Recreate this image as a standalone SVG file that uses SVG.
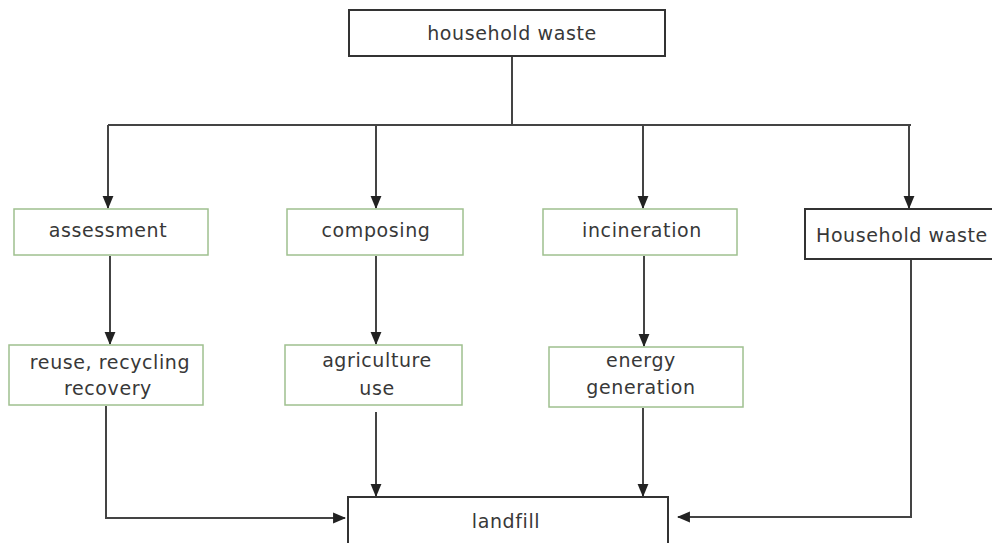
<svg xmlns="http://www.w3.org/2000/svg" width="992" height="543" viewBox="0 0 992 543">
<defs>
<style>
.t{font-family:"DejaVu Sans",Verdana,sans-serif;font-size:19px;letter-spacing:0.6px;fill:#383838;text-anchor:middle}
.g{fill:#fff;stroke:#9fc08f;stroke-width:1.5}
.b{fill:#fff;stroke:#333;stroke-width:2}
.c{fill:none;stroke:#444;stroke-width:2}
</style>
<marker id="ah" viewBox="0 0 12 12" refX="11" refY="6" markerWidth="13" markerHeight="13" markerUnits="userSpaceOnUse" orient="auto">
<path d="M0,1 L12,6 L0,11 Z" fill="#222"/>
</marker>
</defs>
<rect width="992" height="543" fill="#fff"/>
<g id="connectors">
<path class="c" d="M512,56 V125"/>
<path class="c" d="M108,125 H911"/>
<path class="c" d="M108,125 V208" marker-end="url(#ah)"/>
<path class="c" d="M376,125 V208" marker-end="url(#ah)"/>
<path class="c" d="M643,125 V208" marker-end="url(#ah)"/>
<path class="c" d="M909,125 V208" marker-end="url(#ah)"/>
<path class="c" d="M110,256 V344" marker-end="url(#ah)"/>
<path class="c" d="M376,256 V344" marker-end="url(#ah)"/>
<path class="c" d="M644,256 V346" marker-end="url(#ah)"/>
<path class="c" d="M106,406 V518 H345" marker-end="url(#ah)"/>
<path class="c" d="M376,412 V496" marker-end="url(#ah)"/>
<path class="c" d="M643,408 V496" marker-end="url(#ah)"/>
<path class="c" d="M911,259 V517 H678" marker-end="url(#ah)"/>
</g>
<g id="top"><rect class="b" x="349" y="10" width="316" height="46"/><text class="t" x="512" y="40">household waste</text></g>
<g id="assessment"><rect class="g" x="14" y="209" width="194" height="46"/><text class="t" x="108" y="237">assessment</text></g>
<g id="composing"><rect class="g" x="287" y="209" width="176" height="46"/><text class="t" x="376" y="237">composing</text></g>
<g id="incineration"><rect class="g" x="543" y="209" width="194" height="46"/><text class="t" x="642" y="237">incineration</text></g>
<g id="household2"><rect class="b" x="805" y="209" width="200" height="50"/><text class="t" x="816" y="242" style="text-anchor:start">Household waste</text></g>
<g id="reuse"><rect class="g" x="9" y="345" width="194" height="60"/><text class="t" x="110" y="369">reuse, recycling</text><text class="t" x="108" y="395">recovery</text></g>
<g id="agriculture"><rect class="g" x="285" y="345" width="177" height="60"/><text class="t" x="377" y="367">agriculture</text><text class="t" x="377" y="395">use</text></g>
<g id="energy"><rect class="g" x="549" y="347" width="194" height="60"/><text class="t" x="641" y="367">energy</text><text class="t" x="641" y="394">generation</text></g>
<g id="landfill"><rect class="b" x="348" y="497" width="320" height="50"/><text class="t" x="506" y="528">landfill</text></g>
</svg>
